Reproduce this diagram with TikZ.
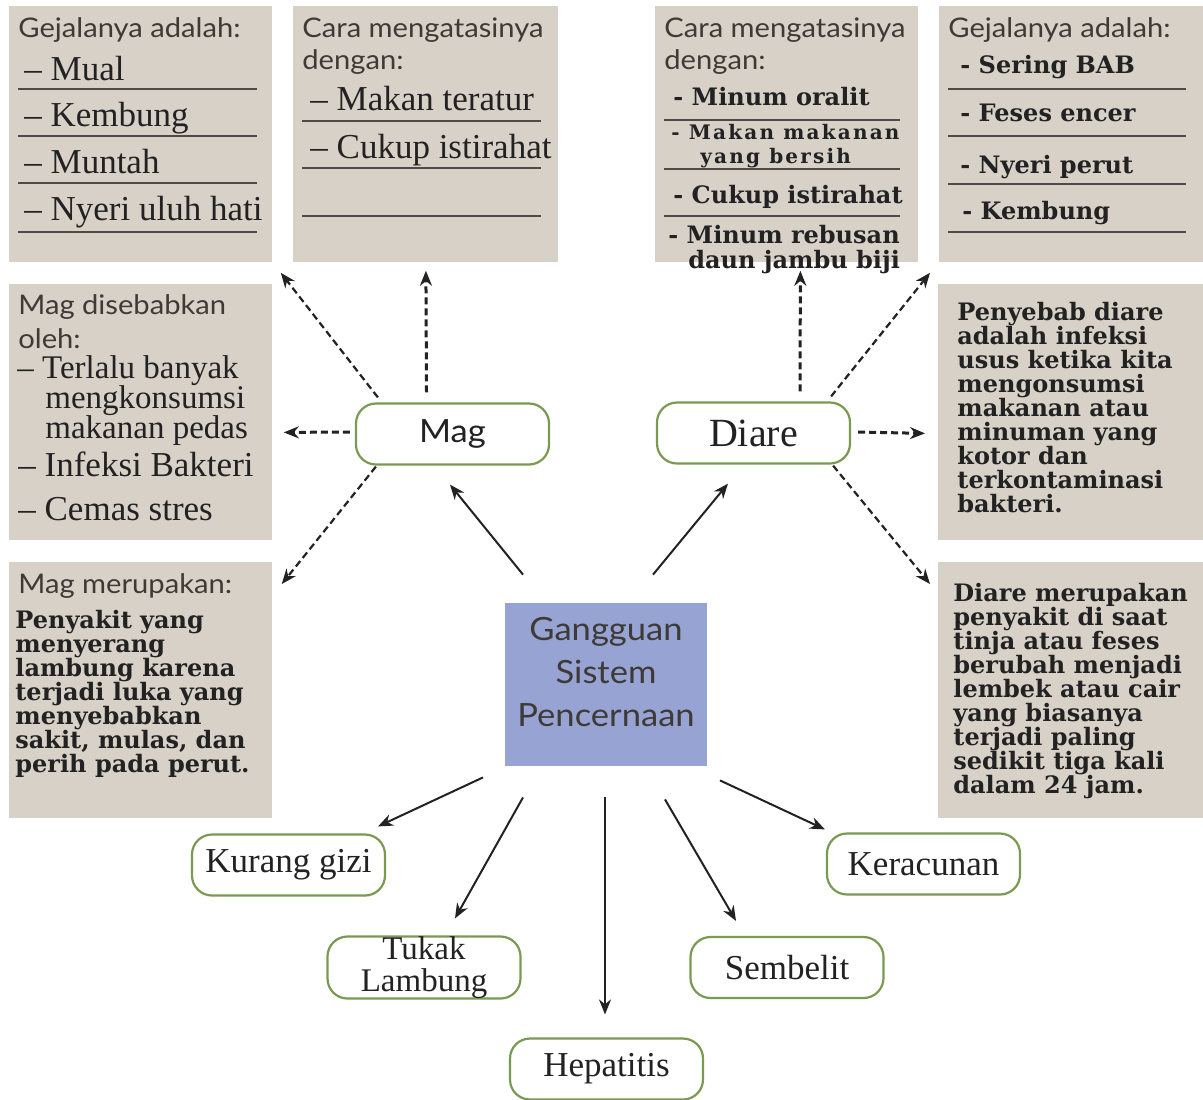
\documentclass[tikz,border=0pt]{standalone}
\usepackage{fontspec}
\setmainfont{Liberation Serif}
\newfontfamily\headfont{Lato}[FakeStretch=1.08]
\newfontfamily\slabfont{DejaVu Serif}
\newfontfamily\slabspaced{DejaVu Serif}[LetterSpace=11]
\usetikzlibrary{arrows.meta,calc}

\definecolor{boxbeige}{RGB}{216,209,199}
\definecolor{centerblue}{RGB}{150,163,211}
\definecolor{nodegreen}{RGB}{122,154,82}
\definecolor{headgray}{RGB}{62,58,54}
\definecolor{inkgray}{RGB}{34,34,34}
\definecolor{rulegray}{RGB}{78,74,70}

\tikzset{
  infobox/.style={fill=boxbeige, inner sep=0pt, anchor=north west},
  headtext/.style={font=\headfont\fontsize{13.5}{16}\selectfont, text=headgray, anchor=base west, inner sep=0pt},
  itemtext/.style={font=\fontsize{17.5}{20}\selectfont, text=inkgray, anchor=base west, inner sep=0pt},
  itemtight/.style={itemtext, font=\fontsize{16.5}{18}\selectfont},
  slabtext/.style={font=\slabfont\bfseries\fontsize{12}{12}\selectfont, text=inkgray, anchor=base west, inner sep=0pt},
  slabsmall/.style={slabtext, font=\slabspaced\bfseries\fontsize{10}{12}\selectfont},
  slabpara/.style={slabtext, anchor=north west, align=left},
  itemrule/.style={draw=rulegray, line width=1pt},
  disease/.style={draw=nodegreen, line width=1.1pt, rounded corners=10pt, fill=white,
    minimum width=96.5pt, minimum height=30.5pt, inner sep=0pt, align=center, text=inkgray,
    font=\fontsize{17.5}{15.5}\selectfont},
  solidarrow/.style={draw=inkgray, line width=1pt, -{Stealth[length=7.5pt,width=6pt]}},
  dasharrow/.style={solidarrow, line width=1.1pt, dash pattern=on 3.5pt off 2pt},
  dashup/.style={dasharrow, line width=1.5pt},
}

\begin{document}
\begin{tikzpicture}[x=0.5pt, y=-0.5pt]
\useasboundingbox (0,0) rectangle (1203,1099);

% info boxes round the two diseases
\node[infobox, minimum width=131.5pt, minimum height=128pt] (magGejala) at (9,6) {};
\node[infobox, minimum width=132.5pt, minimum height=128pt] (magCara) at (293,6) {};
\node[infobox, minimum width=131.5pt, minimum height=128pt] (magSebab) at (9,284) {};
\node[infobox, minimum width=131.5pt, minimum height=128pt] (magArti) at (9,562) {};
\node[infobox, minimum width=131.5pt, minimum height=128pt] (diareCara) at (655,6) {};
\node[infobox, minimum width=132pt, minimum height=128pt] (diareGejala) at (939,6) {};
\node[infobox, minimum width=132.5pt, minimum height=128pt] (diareSebab) at (938,284) {};
\node[infobox, minimum width=132.5pt, minimum height=128pt] (diareArti) at (938,562) {};

% Mag: gejala
\node[headtext] (magGejalaHead) at (18,37) {Gejalanya adalah:};
\node[itemtext] (magGejala1) at (24,80) {– Mual};
\node[itemtext] (magGejala2) at (24,126) {– Kembung};
\node[itemtext] (magGejala3) at (24,173) {– Muntah};
\node[itemtext] (magGejala4) at (24,220) {– Nyeri uluh hati};
\draw[itemrule] (18,89) -- (257,89);
\draw[itemrule] (18,136) -- (257,136);
\draw[itemrule] (18,183) -- (257,183);
\draw[itemrule] (18,232) -- (257,232);

% Mag: cara mengatasi
\node[headtext] (magCaraHead) at (302,37) {Cara mengatasinya};
\node[headtext] (magCaraHeadB) at (302,69) {dengan:};
\node[itemtext] (magCara1) at (310,110) {– Makan teratur};
\node[itemtext] (magCara2) at (310,158) {– Cukup istirahat};
\draw[itemrule] (302,121) -- (541,121);
\draw[itemrule] (302,168) -- (541,168);
\draw[itemrule] (302,216) -- (541,216);

% Mag: penyebab
\node[headtext] (magSebabHead) at (18,314) {Mag disebabkan};
\node[headtext] (magSebabHeadB) at (18,348) {oleh:};
\node[itemtight] (magSebab1) at (17,378) {– Terlalu banyak};
\node[itemtight] (magSebab1b) at (45,408) {mengkonsumsi};
\node[itemtight] (magSebab1c) at (45,438) {makanan pedas};
\node[itemtext] (magSebab2) at (18,476) {– Infeksi Bakteri};
\node[itemtext] (magSebab3) at (18,520) {– Cemas stres};

% Mag: pengertian
\node[headtext] (magArtiHead) at (18,593) {Mag merupakan:};
\node[slabpara] (magArtiText) at (15,610) {Penyakit yang\\menyerang\\lambung karena\\terjadi luka yang\\menyebabkan\\sakit, mulas, dan\\perih pada perut.};

% Diare: cara mengatasi
\node[headtext] (diareCaraHead) at (664,37) {Cara mengatasinya};
\node[headtext] (diareCaraHeadB) at (664,69) {dengan:};
\node[slabtext] (diareCara1) at (673,105) {- Minum oralit};
\node[slabsmall] (diareCara2) at (671,139) {- Makan makanan};
\node[slabsmall] (diareCara2b) at (700,163) {yang bersih};
\node[slabtext] (diareCara3) at (673,203) {- Cukup istirahat};
\node[slabtext] (diareCara4) at (668,243) {- Minum rebusan};
\node[slabtext] (diareCara4b) at (688,268) {daun jambu biji};
\draw[itemrule] (664,120) -- (900,120);
\draw[itemrule] (664,169) -- (900,169);
\draw[itemrule] (664,216) -- (900,216);

% Diare: gejala
\node[headtext] (diareGejalaHead) at (948,37) {Gejalanya adalah:};
\node[slabtext] (diareGejala1) at (960,73) {- Sering BAB};
\node[slabtext] (diareGejala2) at (960,121) {- Feses encer};
\node[slabtext] (diareGejala3) at (960,173) {- Nyeri perut};
\node[slabtext] (diareGejala4) at (962,219) {- Kembung};
\draw[itemrule] (948,89) -- (1186,89);
\draw[itemrule] (948,136) -- (1186,136);
\draw[itemrule] (948,184) -- (1186,184);
\draw[itemrule] (948,232) -- (1186,232);

% Diare: penyebab dan pengertian
\node[slabpara] (diareSebabText) at (957,302) {Penyebab diare\\adalah infeksi\\usus ketika kita\\mengonsumsi\\makanan atau\\minuman yang\\kotor dan\\terkontaminasi\\bakteri.};
\node[slabpara] (diareArtiText) at (953,583) {Diare merupakan\\penyakit di saat\\tinja atau feses\\berubah menjadi\\lembek atau cair\\yang biasanya\\terjadi paling\\sedikit tiga kali\\dalam 24 jam.};

% center and diseases
\node[fill=centerblue, minimum width=101pt, minimum height=81.5pt, inner sep=0pt] (gsp) at (606,684.5) {};
\node[align=center, inner sep=0pt, text=headgray, font=\headfont\fontsize{16}{21.5}\selectfont] (gspLabel) at (606,672) {Gangguan\\Sistem\\Pencernaan};
\node[disease, font=\headfont\fontsize{16}{16}\selectfont] (mag) at (452.5,434) {Mag};
\node[disease, font=\fontsize{20}{20}\selectfont] (diare) at (753.5,433) {Diare};
\node[disease] (kurang) at (288.5,865) {Kurang gizi};
\node[disease, font=\fontsize{16.5}{16}\selectfont] (tukak) at (424,967.5) {Tukak\\Lambung};
\node[disease] (hepatitis) at (606.5,1069) {Hepatitis};
\node[disease] (sembelit) at (787,967.5) {Sembelit};
\node[disease] (keracunan) at (923.5,864) {Keracunan};

% arrows from the center
\draw[solidarrow] ($(gsp.north)+(-83,-28)$) -- ($(mag.south)+(-2.5,19)$);
\draw[solidarrow] ($(gsp.north)+(47,-28)$) -- ($(diare.south)+(-25.5,19)$);
\draw[solidarrow] ($(gsp.south)+(-123,11)$) -- ($(kurang.north)+(89.5,-7)$);
\draw[solidarrow] ($(gsp.south)+(-83,31)$) -- ($(tukak.north)+(31,-17)$);
\draw[solidarrow] ($(gsp.south)+(-1,31)$) -- ($(hepatitis.north)+(-1.5,-23)$);
\draw[solidarrow] ($(gsp.south)+(59,33)$) -- ($(sembelit.north)+(-51,-15)$);
\draw[solidarrow] ($(gsp.south)+(114,14)$) -- ($(keracunan.north west)+(-1,-3)$);

% dashed arrows to the boxes
\draw[dasharrow] ($(mag.north west)+(23,-5)$) -- ($(magGejala.south east)+(8,10)$);
\draw[dashup] ($(mag.north)+(-26,-10)$) -- ($(magCara.south)+(0,8)$);
\draw[dashup] ($(mag.west)+(-5,-2)$) -- ($(magSebab.east)+(11,20)$);
\draw[dasharrow] ($(mag.south west)+(21,1)$) -- ($(magArti.north east)+(9,22)$);
\draw[dashup] ($(diare.north)+(46.5,-10)$) -- ($(diareCara.south)+(13.5,8)$);
\draw[dasharrow] ($(diare.north east)+(-20,-5)$) -- ($(diareGejala.south west)+(-9,10)$);
\draw[dashup] ($(diare.east)+(7,-1)$) -- ($(diareSebab.west)+(-13,21)$);
\draw[dasharrow] ($(diare.south east)+(-18,1)$) -- ($(diareArti.north west)+(-8,22)$);
\end{tikzpicture}
\end{document}
